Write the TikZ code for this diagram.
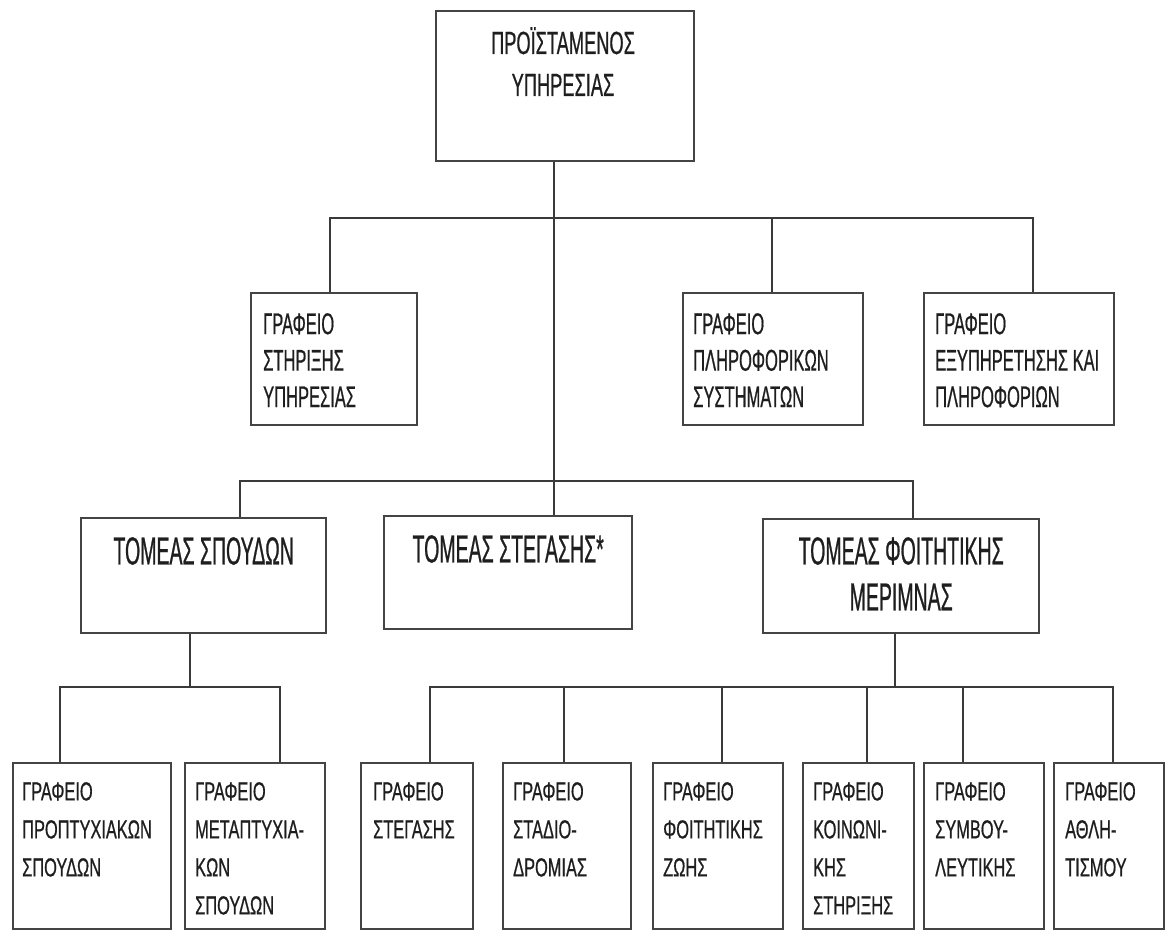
\documentclass[tikz,border=0pt]{standalone}
\usepackage{fontspec}
\setmainfont{Liberation Sans}
\newfontfamily\fTop[FakeStretch=0.57,FakeBold=0.6]{Liberation Sans}
\newfontfamily\fOff[FakeStretch=0.55,FakeBold=0.6]{Liberation Sans}
\newfontfamily\fSec[FakeStretch=0.50,FakeBold=0.6]{Liberation Sans}
\newfontfamily\fSub[FakeStretch=0.63,FakeBold=0.6]{Liberation Sans}
\definecolor{linec}{HTML}{3A3A3A}
\definecolor{boxc}{HTML}{444444}
\definecolor{txtc}{HTML}{1E1E1E}
\begin{document}
\begin{tikzpicture}[x=1pt,y=-1pt,
  box/.style={draw=boxc, line width=2.4pt, fill=white, inner sep=0pt, anchor=north west},
  conn/.style={draw=linec, line width=2pt},
  ttop/.style={inner sep=0pt, align=center, anchor=north, text=txtc, font={\fTop\fontsize{32}{42}\selectfont}},
  toff/.style={inner sep=0pt, align=left, anchor=north west, text=txtc, font={\fOff\fontsize{30}{36.5}\selectfont}},
  tsec/.style={inner sep=0pt, align=center, anchor=north, text=txtc, font={\fSec\fontsize{39}{46}\selectfont}},
  tsub/.style={inner sep=0pt, align=left, anchor=north west, text=txtc, font={\fSub\fontsize{26}{38}\selectfont}}
]
\useasboundingbox (0,0) rectangle (1166,932);
\fill[white] (0,0) rectangle (1166,932);

% top
\node[box, minimum width=258pt, minimum height=150pt] (b0) at (435,10) {};
% row 2
\node[box, minimum width=166pt, minimum height=132pt] (g1) at (250,292) {};
\node[box, minimum width=180pt, minimum height=132pt] (g2) at (682,292) {};
\node[box, minimum width=190pt, minimum height=132pt] (g3) at (923,292) {};
% row 3
\node[box, minimum width=245pt, minimum height=115pt] (s1) at (80,517) {};
\node[box, minimum width=248pt, minimum height=113pt] (s2) at (383,515) {};
\node[box, minimum width=276pt, minimum height=114pt] (s3) at (762,518) {};
% bottom row
\node[box, minimum width=158pt, minimum height=166pt] (p1) at (12,762) {};
\node[box, minimum width=140pt, minimum height=166pt] (p2) at (184,762) {};
\node[box, minimum width=112pt, minimum height=166pt] (p3) at (360,762) {};
\node[box, minimum width=128pt, minimum height=166pt] (p4) at (502,762) {};
\node[box, minimum width=130pt, minimum height=166pt] (p5) at (652,762) {};
\node[box, minimum width=111pt, minimum height=166pt] (p6) at (802,762) {};
\node[box, minimum width=120pt, minimum height=166pt] (p7) at (923,762) {};
\node[box, minimum width=110pt, minimum height=166pt] (p8) at (1053,762) {};

% texts
\node[ttop] (b0t) at (563,27) {ΠΡΟΪΣΤΑΜΕΝΟΣ\\ΥΠΗΡΕΣΙΑΣ};
\node[toff] (g1t) at ([xshift=13pt,yshift=-21pt]g1.north west) {ΓΡΑΦΕΙΟ\\ΣΤΗΡΙΞΗΣ\\ΥΠΗΡΕΣΙΑΣ};
\node[toff] (g2t) at ([xshift=11pt,yshift=-21pt]g2.north west) {ΓΡΑΦΕΙΟ\\ΠΛΗΡΟΦΟΡΙΚΩΝ\\ΣΥΣΤΗΜΑΤΩΝ};
\node[toff] (g3t) at ([xshift=12pt,yshift=-21pt]g3.north west) {ΓΡΑΦΕΙΟ\\ΕΞΥΠΗΡΕΤΗΣΗΣ ΚΑΙ\\ΠΛΗΡΟΦΟΡΙΩΝ};
\node[tsec] (s1t) at ([yshift=-20pt]s1.north) {ΤΟΜΕΑΣ ΣΠΟΥΔΩΝ};
\node[tsec] (s2t) at ([yshift=-20pt]s2.north) {ΤΟΜΕΑΣ ΣΤΕΓΑΣΗΣ*};
\node[tsec] (s3t) at ([yshift=-19pt]s3.north) {ΤΟΜΕΑΣ ΦΟΙΤΗΤΙΚΗΣ\\ΜΕΡΙΜΝΑΣ};
\node[tsub] (p1t) at ([xshift=10pt,yshift=-20pt]p1.north west) {ΓΡΑΦΕΙΟ\\ΠΡΟΠΤΥΧΙΑΚΩΝ\\ΣΠΟΥΔΩΝ};
\node[tsub] (p2t) at ([xshift=11pt,yshift=-20pt]p2.north west) {ΓΡΑΦΕΙΟ\\ΜΕΤΑΠΤΥΧΙΑ-\\ΚΩΝ\\ΣΠΟΥΔΩΝ};
\node[tsub] (p3t) at ([xshift=13pt,yshift=-20pt]p3.north west) {ΓΡΑΦΕΙΟ\\ΣΤΕΓΑΣΗΣ};
\node[tsub] (p4t) at ([xshift=11pt,yshift=-20pt]p4.north west) {ΓΡΑΦΕΙΟ\\ΣΤΑΔΙΟ-\\ΔΡΟΜΙΑΣ};
\node[tsub] (p5t) at ([xshift=11pt,yshift=-20pt]p5.north west) {ΓΡΑΦΕΙΟ\\ΦΟΙΤΗΤΙΚΗΣ\\ΖΩΗΣ};
\node[tsub] (p6t) at ([xshift=11pt,yshift=-20pt]p6.north west) {ΓΡΑΦΕΙΟ\\ΚΟΙΝΩΝΙ-\\ΚΗΣ\\ΣΤΗΡΙΞΗΣ};
\node[tsub] (p7t) at ([xshift=12pt,yshift=-20pt]p7.north west) {ΓΡΑΦΕΙΟ\\ΣΥΜΒΟΥ-\\ΛΕΥΤΙΚΗΣ};
\node[tsub] (p8t) at ([xshift=12pt,yshift=-20pt]p8.north west) {ΓΡΑΦΕΙΟ\\ΑΘΛΗ-\\ΤΙΣΜΟΥ};

% junction coordinates
\coordinate (ja) at (554,218);
\coordinate (jl) at (330,218);
\coordinate (jm) at (772,218);
\coordinate (jr) at (1033,218);
\coordinate (ka) at (554,481);
\coordinate (kl) at (240,481);
\coordinate (kr) at (913,481);
\coordinate (ml) at (190,687);
\coordinate (mr) at (895,687);
\coordinate (q1) at (60,687);
\coordinate (q2) at (280,687);
\coordinate (q3) at (430,687);
\coordinate (q4) at (564,687);
\coordinate (q5) at (722,687);
\coordinate (q6) at (867,687);
\coordinate (q7) at (963,687);
\coordinate (q8) at (1113,687);

% connectors
\draw[conn] (b0.south -| ja) -- (s2.north -| ja);
\draw[conn] (g1.north -| jl) -- (jl) -- (jr) -- (g3.north -| jr);
\draw[conn] (jm) -- (g2.north -| jm);
\draw[conn] (s1.north -| kl) -- (kl) -- (kr) -- (s3.north -| kr);
\draw[conn] (s1.south -| ml) -- (ml);
\draw[conn] (p1.north -| q1) -- (q1) -- (q2) -- (p2.north -| q2);
\draw[conn] (s3.south -| mr) -- (mr);
\draw[conn] (p3.north -| q3) -- (q3) -- (q8) -- (p8.north -| q8);
\draw[conn] (q4) -- (p4.north -| q4);
\draw[conn] (q5) -- (p5.north -| q5);
\draw[conn] (q6) -- (p6.north -| q6);
\draw[conn] (q7) -- (p7.north -| q7);
\end{tikzpicture}
\end{document}
